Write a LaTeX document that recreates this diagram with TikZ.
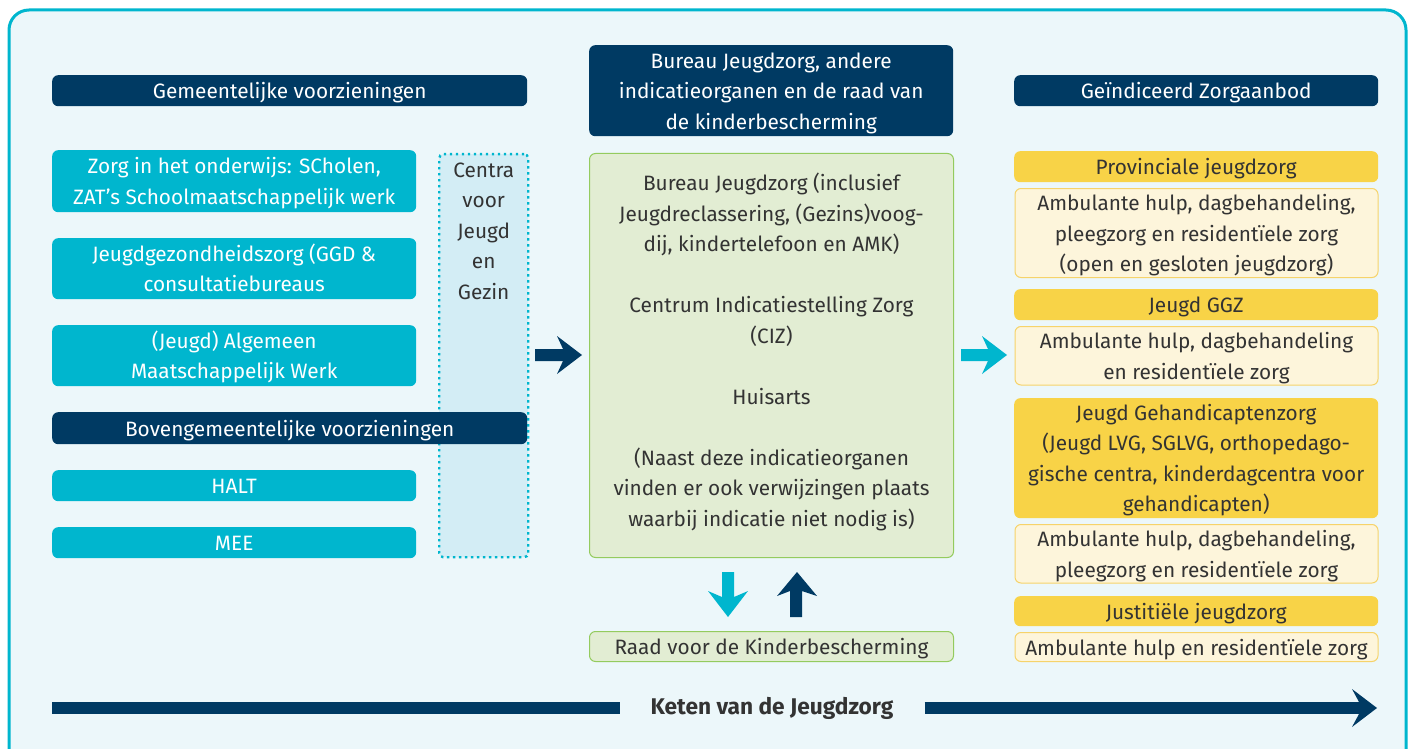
\documentclass[tikz,border=0pt]{standalone}
\usepackage{fontspec}
\setmainfont{Fira Sans}
\definecolor{navy}{HTML}{003A63}
\definecolor{cyanb}{HTML}{00B6CE}
\definecolor{bg}{HTML}{ECF7FA}
\definecolor{yel}{HTML}{F8D347}
\definecolor{lyel}{HTML}{FDF5DB}
\definecolor{yelline}{HTML}{F6D36A}
\definecolor{grn}{HTML}{E2EDD3}
\definecolor{grnline}{HTML}{94CB5E}
\definecolor{cjg}{HTML}{D3EDF5}
\definecolor{txt}{HTML}{333333}
\newcommand\fsz{\fontsize{20.8}{30.5}\selectfont}
\newcommand\bst{\rule[-6pt]{0pt}{28pt}}
\begin{document}
\begin{tikzpicture}[x=1pt,y=-1pt,
  base/.style={anchor=north west, inner sep=0pt, align=center, rounded corners=6pt, font=\fsz,
    execute at begin node={\bst}, execute at end node={\bst}},
  navybox/.style={base, fill=navy, text=white},
  cyanbox/.style={base, fill=cyanb, text=white, minimum width=364pt},
  yelbox/.style={base, fill=yel, text=txt, minimum width=364pt},
  lyelbox/.style={base, fill=lyel, draw=yelline, line width=1pt, text=txt, minimum width=363pt},
  grnbox/.style={base, fill=grn, draw=grnline, line width=1pt, text=txt, minimum width=364pt},
  navyfill/.style={fill=navy},
  cyanfill/.style={fill=cyanb}]
\useasboundingbox (0,0) rectangle (1414,749);
% frame
\draw[cyanb, line width=3pt, fill=bg, rounded corners=20pt] (9,10) rectangle (1406,775);
% Centra voor Jeugd en Gezin (behind the navy bar)
\node[base, rounded corners=4pt, fill=cjg, draw=cyanb, line width=2.4pt, dash pattern=on 2.4pt off 3.6pt, minimum width=89pt, minimum height=403pt, execute at begin node={}, execute at end node={}] (cjg) at (438,153) {};
\node[anchor=north, inner sep=0pt, align=center, font=\fsz, text=txt] (cjgtext) at ([yshift=-2pt]cjg.north) {\bst Centra\\voor\\Jeugd\\en\\Gezin};
% left column
\node[navybox, minimum width=475pt, minimum height=31pt] (gem) at (52,75) {Gemeentelijke voorzieningen};
\node[cyanbox, minimum height=62pt] (onderwijs) at (52,150) {\bst Zorg in het onderwijs: SCholen,\\ZAT's Schoolmaatschappelijk werk};
\node[cyanbox, minimum height=61pt] (ggd) at (52,238) {\bst Jeugdgezondheidszorg (GGD \&\\consultatiebureaus};
\node[cyanbox, minimum height=61pt] (amw) at (52,325) {\bst (Jeugd) Algemeen\\Maatschappelijk Werk};
\node[navybox, minimum width=475pt, minimum height=32pt] (boven) at (52,412) {Bovengemeentelijke voorzieningen};
\node[cyanbox, minimum height=31pt] (halt) at (52,470) {HALT};
\node[cyanbox, minimum height=31pt] (mee) at (52,527) {MEE};
% middle column
\node[navybox, minimum width=364pt, minimum height=91pt] (bjz) at (589,45) {\bst Bureau Jeugdzorg, andere\\indicatieorganen en de raad van\\de kinderbescherming};
\node[grnbox, minimum height=404pt, execute at end node={\bst\rule[-16.5pt]{0pt}{0pt}}] (ind) at (589,153) {\bst Bureau Jeugdzorg (inclusief\\Jeugdreclassering, (Gezins)voog-\\dij, kindertelefoon en AMK)\\[30.5pt]Centrum Indicatiestelling Zorg\\(CIZ)\\[30.5pt]Huisarts\\[30.5pt](Naast deze indicatieorganen\\vinden er ook verwijzingen plaats\\waarbij indicatie niet nodig is)};
\node[grnbox, minimum height=30pt] (raad) at (589,631) {Raad voor de Kinderbescherming};
% right column
\node[navybox, minimum width=364pt, minimum height=31pt] (aanbod) at (1014,75) {Geïndiceerd Zorgaanbod};
\node[yelbox, minimum height=31pt] (prov) at (1014,151) {Provinciale jeugdzorg};
\node[lyelbox, minimum height=88pt] (provz) at (1014.5,188) {\bst Ambulante hulp, dagbehandeling,\\pleegzorg en residentïele zorg\\(open en gesloten jeugdzorg)};
\node[yelbox, minimum height=31pt] (ggz) at (1014,289) {Jeugd GGZ};
\node[lyelbox, minimum height=58pt] (ggzz) at (1014.5,326) {\bst Ambulante hulp, dagbehandeling\\en residentïele zorg};
\node[yelbox, minimum height=120pt] (gehand) at (1014,398) {\bst Jeugd Gehandicaptenzorg\\(Jeugd LVG, SGLVG, orthopedago-\\gische centra, kinderdagcentra voor\\gehandicapten)};
\node[lyelbox, minimum height=58pt] (gehandz) at (1014.5,524) {\bst Ambulante hulp, dagbehandeling,\\pleegzorg en residentïele zorg};
\node[yelbox, minimum height=30pt] (just) at (1014,596) {Justitiële jeugdzorg};
\node[lyelbox, minimum height=29pt] (justz) at (1014.5,632) {Ambulante hulp en residentïele zorg};
% block arrows
\fill[navyfill] (535,349) -- (563,349) -- (557,336) -- (582,355) -- (557,374) -- (563,361) -- (535,361) -- cycle;
\fill[cyanfill] (961,349) -- (988,349) -- (982,336) -- (1007,355) -- (982,374) -- (988,361) -- (961,361) -- cycle;
\fill[cyanfill] (722,572) -- (734,572) -- (734,597) -- (748,591) -- (728,617) -- (708,591) -- (722,597) -- cycle;
\fill[navyfill] (790,617) -- (802,617) -- (802,591) -- (817,596) -- (797,572) -- (777,596) -- (790,591) -- cycle;
% bottom chain arrow
\node[inner sep=0pt, font=\fontsize{22.7}{26}\selectfont\bfseries, text=txt] (keten) at (772,708) {Keten van de Jeugdzorg};
\coordinate (kstart) at (52,708);
\coordinate (kend) at (1377,708);
\draw[navy, line width=12pt] (kstart) -- ([xshift=-31pt]keten.west);
\draw[navy, line width=12pt] ([xshift=31pt]keten.east) -- ([xshift=-18pt]kend);
\fill[navyfill] (kend) -- ([xshift=-25pt,yshift=-19pt]kend) -- ([xshift=-18pt,yshift=-6pt]kend) -- ([xshift=-18pt,yshift=6pt]kend) -- ([xshift=-25pt,yshift=19pt]kend) -- cycle;
\end{tikzpicture}
\end{document}
